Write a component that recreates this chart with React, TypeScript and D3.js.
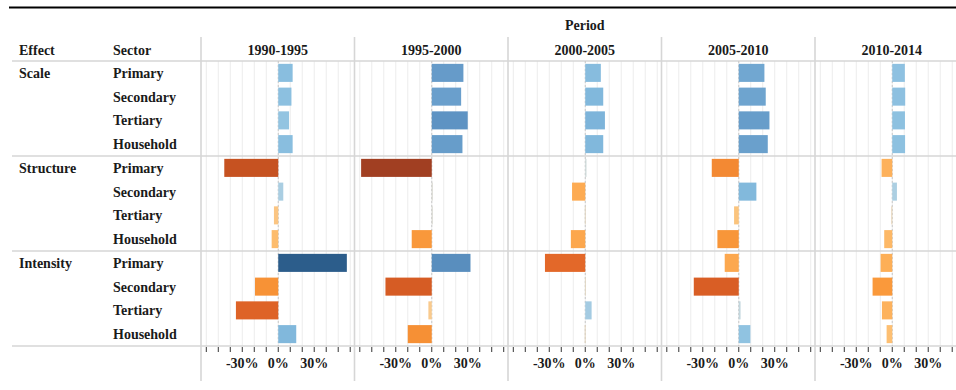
import React from "react";
import * as d3 from "d3";

const periods = ["1990-1995", "1995-2000", "2000-2005", "2005-2010", "2010-2014"];
const effects = ["Scale", "Structure", "Intensity"];
const sectors = ["Primary", "Secondary", "Tertiary", "Household"];

// values in %, order: effect x sector
const v1990 = [12, 11, 9, 12, -45, 4.2, -3.6, -5.5, 57.2, -19.4, -35.3, 15];
const v1995 = [26.4, 24.5, 30, 25.6, -58.9, 0.3, 0.3, -16.7, 32.3, -38.6, -2.8, -20];
const v2000 = [13, 15, 16.4, 15, 1, -11, -0.4, -12, -33.6, -0.3, 5.3, -0.5];
const v2005 = [21.4, 22.5, 25.6, 24.2, -22.5, 14.7, -3.9, -17.8, -11.7, -37.5, 1.5, 9.7];
const v2010 = [10.5, 10.8, 10.6, 10.7, -8.9, 3.9, -0.8, -6.7, -9.7, -16.4, -8.6, -4.7];
const seriesValues = [v1990, v1995, v2000, v2005, v2010];

const tickValues = [-60, -50, -40, -30, -20, -10, 0, 10, 20, 30, 40, 50, 60];
const tickLabels = [-30, 0, 30];

const colorStops = [-60, -45, -38, -33, -20, -16, -10, -5, -2, 0, 2, 5, 10, 15, 22, 30, 40, 57];
const colorRange = [
  "#9e3d22", "#c65221", "#d85d24", "#e4692a", "#f69035", "#fa9a3c", "#fdae56", "#fdbd6e",
  "#f8cf98", "#ddd8cc", "#b9d5e2", "#a5cce2", "#8fc2e1", "#81b8dc", "#6fa5d0", "#5e93c3",
  "#4a7ead", "#2c5d8b",
];

const FONT = "'Liberation Serif', 'Times New Roman', serif";

export default function App() {
  const W = 956, H = 390;
  const panelLeft = 201, panelW = 153.5;
  const bodyTop = 61, bodyBottom = 346;
  const rows = effects.flatMap((e) => sectors.map((s) => `${e}|${s}`));
  const y = d3.scaleBand<string>().domain(rows).range([bodyTop, bodyBottom]).paddingInner(0.24).paddingOuter(0.12);
  const rowH = (bodyBottom - bodyTop) / rows.length;
  const color = d3.scaleLinear<string>().domain(colorStops).range(colorRange).interpolate(d3.interpolateRgb).clamp(true);

  const xScales = periods.map((_, i) =>
    d3.scaleLinear().domain([-64, 64]).range([panelLeft + i * panelW + 0.5, panelLeft + (i + 1) * panelW + 0.5])
  );

  const txt = { fontFamily: FONT, fontWeight: 700, fontSize: 14, fill: "#1a1a1a" } as const;

  return (
    <svg width={W} height={H} style={{ position: "absolute", left: 0, top: 0, background: "#fff" }}>
      <line x1={9} x2={W} y1={7.5} y2={7.5} stroke="#000" strokeWidth={2.2} />

      {/* gridlines */}
      {xScales.map((x, i) => (
        <g key={"g" + i}>
          {tickValues.map((t) => (
            <line key={t} x1={x(t)} x2={x(t)} y1={bodyTop} y2={bodyBottom} stroke="#ececec" strokeWidth={1} />
          ))}
        </g>
      ))}

      {/* horizontal separators */}
      {[bodyTop, bodyTop + rowH * 4, bodyTop + rowH * 8, bodyBottom].map((yy, i) => (
        <line key={"h" + i} x1={12} x2={W} y1={yy} y2={yy} stroke="#d6d6d6" strokeWidth={1.6} />
      ))}

      {/* panel dividers */}
      {d3.range(periods.length + 1).map((i) => (
        <line key={"v" + i} x1={panelLeft + i * panelW} x2={panelLeft + i * panelW} y1={37} y2={381} stroke="#d6d6d6" strokeWidth={1.6} />
      ))}

      {/* zero lines */}
      {xScales.map((x, i) => (
        <line key={"z" + i} x1={x(0)} x2={x(0)} y1={bodyTop} y2={bodyBottom} stroke="#c8c8c8" strokeWidth={1} strokeDasharray="2,2" />
      ))}

      {/* bars */}
      {xScales.map((x, i) => (
        <g key={"b" + i}>
          {seriesValues[i].map((v, j) => {
            const x0 = x(Math.min(0, v));
            const x1 = x(Math.max(0, v));
            return (
              <rect key={j} x={x0} y={y(rows[j])} width={Math.max(1, x1 - x0)} height={y.bandwidth()} fill={color(v)} />
            );
          })}
        </g>
      ))}

      {/* axes */}
      {xScales.map((x, i) => (
        <g key={"a" + i}>
          {tickValues.map((t) => (
            <line key={t} x1={x(t)} x2={x(t)} y1={bodyBottom + 1} y2={bodyBottom + 6} stroke="#333" strokeWidth={1} />
          ))}
          {tickLabels.map((t) => (
            <text key={t} x={x(t)} y={368} textAnchor="middle" {...txt}>
              {t + "%"}
            </text>
          ))}
        </g>
      ))}

      {/* header */}
      <text x={panelLeft + (periods.length * panelW) / 2} y={30} textAnchor="middle" {...txt}>Period</text>
      {periods.map((p, i) => (
        <text key={p} x={panelLeft + i * panelW + panelW / 2} y={55} textAnchor="middle" {...txt}>{p}</text>
      ))}
      <text x={19} y={55} {...txt}>Effect</text>
      <text x={113} y={55} {...txt}>Sector</text>

      {/* row labels */}
      {rows.map((r, j) => {
        const [e, s] = r.split("|");
        const cy = bodyTop + rowH * (j + 0.5) + 5;
        return (
          <g key={r}>
            {j % 4 === 0 && <text x={19} y={cy} {...txt}>{e}</text>}
            <text x={113} y={cy} {...txt}>{s}</text>
          </g>
        );
      })}
    </svg>
  );
}
